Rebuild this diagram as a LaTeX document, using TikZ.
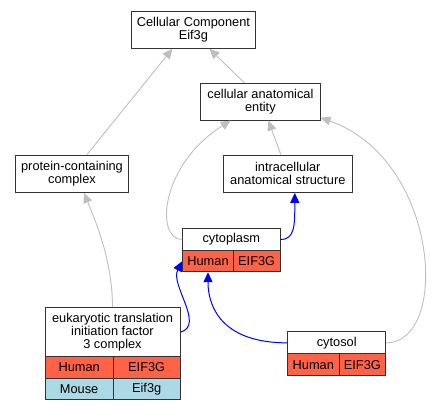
\documentclass[tikz,border=0pt]{standalone}
\usepackage{fontspec}
\setmainfont{Liberation Sans}
\usetikzlibrary{arrows.meta}
\definecolor{humanred}{HTML}{FF6347}
\definecolor{mouseblue}{HTML}{ADD8E6}
\definecolor{edgegray}{HTML}{BEBEBE}
\tikzset{
  box/.style={draw=black!80, line width=1pt, fill=white, inner sep=0pt, align=center,
    font=\fontsize{12.8}{13}\selectfont},
  human/.style={box, fill=humanred},
  mouse/.style={box, fill=mouseblue},
  isa/.style={edgegray, line width=0.9pt, -{Triangle[length=10pt,width=9pt]}},
  partof/.style={blue, line width=1pt, -{Triangle[length=10pt,width=9pt]}}
}
\begin{document}
\begin{tikzpicture}[x=1pt, y=-1pt]
      \useasboundingbox (0,0) rectangle (440,411);
      % ontology terms
      \node[box, minimum width=123.3, minimum height=36.6] (cc) at (193.4,30) {Cellular Component\\Eif3g};
      \node[box, minimum width=119.3, minimum height=36.7] (cae) at (260.4,101.7) {cellular anatomical\\entity};
      \node[box, minimum width=112.6, minimum height=37.3] (pc) at (72,173.7) {protein-containing\\complex};
      \node[box, minimum width=129, minimum height=37.3] (ias) at (287.8,173.7) {intracellular\\anatomical structure};
      % annotated terms
      \node[box, minimum width=97.3, minimum height=22.4] (cyto) at (231.35,239.5) {cytoplasm};
      \node[human, minimum width=50.6, minimum height=21] (cytoH) at (208,261.2) {Human};
      \node[human, minimum width=46.7, minimum height=21] (cytoG) at (256.65,261.2) {EIF3G};
      \node[box, minimum width=135, minimum height=49] (eif) at (112.5,332.2) {eukaryotic translation\\initiation factor\\3 complex};
      \node[human, minimum width=68.3, minimum height=21.6] (eifH) at (79.15,367.5) {Human};
      \node[human, minimum width=66.7, minimum height=21.6] (eifG) at (146.65,367.5) {EIF3G};
      \node[mouse, minimum width=68.3, minimum height=21.7] (eifM) at (79.15,389.15) {Mouse};
      \node[mouse, minimum width=66.7, minimum height=21.7] (eifg) at (146.65,389.15) {Eif3g};
      \node[box, minimum width=98, minimum height=22.3] (csol) at (336.7,342.85) {cytosol};
      \node[human, minimum width=51.3, minimum height=21.7] (csolH) at (313.35,364.85) {Human};
      \node[human, minimum width=46.7, minimum height=21.7] (csolG) at (362.35,364.85) {EIF3G};
      % is_a
      \draw[isa] ([xshift=15pt]pc.north) -- ([xshift=-21pt]cc.south);
      \draw[isa] ([xshift=-16pt]cae.north) -- ([xshift=16pt]cc.south);
      \draw[isa] ([xshift=-7pt]ias.north) -- ([xshift=8pt]cae.south);
      \draw[isa] (cyto.west) .. controls (155,239.5) and (160,165) .. ([xshift=30.5pt]cae.south west);
      \draw[isa] (csol.east) .. controls (450,342.85) and (440,160) .. ([yshift=-16pt]cae.east);
      \draw[isa] (eif.north) .. controls (112.5,260) and (95,220) .. ([xshift=12pt]pc.south);
      % part_of
      \draw[partof] (cyto.east) .. controls (295,239.5) and (294.8,225) .. ([xshift=7pt]ias.south);
      \draw[partof] (eif.east) .. controls (205,325) and (170,285) .. (cytoH.west);
      \draw[partof] (csol.west) .. controls (225,342.85) and (208,310) .. (cytoH.south);
    \end{tikzpicture}
\end{document}
